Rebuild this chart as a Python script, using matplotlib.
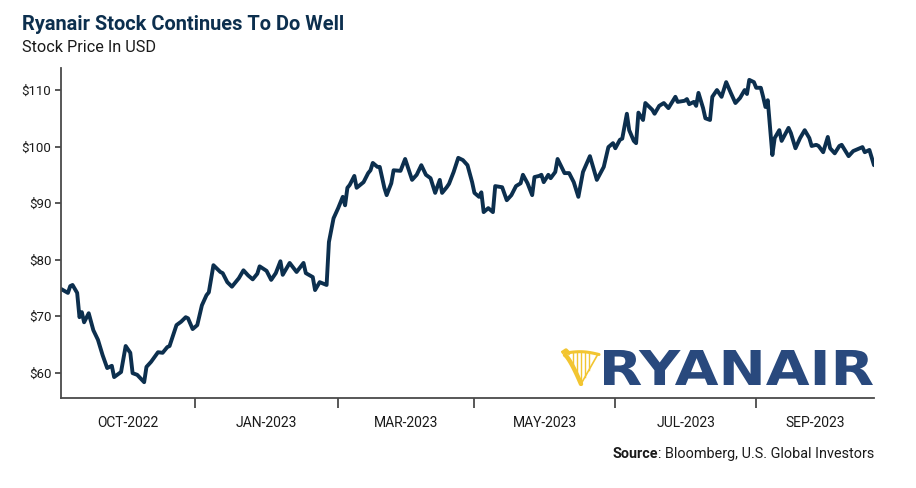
import numpy as np
import pandas as pd
import matplotlib
matplotlib.use("Agg")
import matplotlib.pyplot as plt
from matplotlib.textpath import TextPath
from matplotlib.patches import PathPatch
from matplotlib.font_manager import FontProperties

# donnees (jours depuis le debut, prix en USD)
debut = "2022-10-04"
jours = [0, 3, 4, 5, 7, 8, 9, 10, 12, 14, 16, 18, 20, 22, 23, 26, 28, 30, 31, 33,
         36, 37, 39, 42, 44, 46, 47, 50, 52, 54, 55, 57, 59, 61, 63, 64, 66, 69, 70, 72,
         74, 77, 79, 81, 83, 85, 86, 89, 91, 93, 95, 96, 99, 102, 105, 106, 109, 110, 112, 115,
         116, 118, 120, 122, 123, 124, 125, 127, 128, 131, 133, 134, 135, 137, 138, 140, 141, 143, 144, 147,
         149, 152, 154, 156, 158, 160, 162, 164, 165, 167, 168, 170, 172, 174, 176, 178, 179, 181, 182, 183,
         185, 187, 188, 191, 193, 195, 197, 199, 200, 202, 204, 205, 207, 208, 209, 211, 212, 214, 215, 218,
         220, 222, 224, 226, 229, 232, 235, 237, 239, 240, 242, 243, 245, 246, 248, 249, 250, 252, 253, 256,
         257, 259, 261, 263, 266, 267, 270, 271, 272, 274, 275, 276, 278, 279, 281, 282, 284, 286, 288, 290,
         292, 294, 296, 297, 298, 300, 301, 303, 304, 305, 306, 308, 309, 311, 312, 315, 316, 318, 320, 322,
         324, 325, 327, 328, 330, 332, 333, 335, 337, 338, 341, 343, 347, 348, 350, 352]
prix = [74.8, 74.1, 75.3, 75.5, 74.1, 69.8, 70.7, 68.9, 70.5, 67.5, 65.8, 63.1, 60.8, 61.2, 59.2, 60.1, 64.7, 63.5, 59.9, 59.6,
        58.3, 61.0, 61.9, 63.6, 63.5, 64.5, 64.7, 68.4, 69.0, 69.8, 69.6, 67.7, 68.4, 71.9, 73.7, 74.2, 79.0, 77.8, 77.6, 76.0,
        75.2, 76.7, 78.1, 77.2, 76.5, 77.5, 78.8, 78.0, 76.4, 77.6, 79.7, 77.3, 79.4, 77.8, 79.4, 77.6, 76.9, 74.6, 76.0, 75.5,
        83.1, 87.3, 89.1, 91.1, 89.6, 92.7, 93.2, 94.8, 92.7, 93.7, 95.3, 95.8, 97.1, 96.4, 96.4, 92.7, 91.4, 93.5, 95.8, 95.7,
        97.8, 94.1, 95.0, 96.7, 95.0, 94.4, 91.8, 94.1, 91.8, 92.8, 93.4, 95.5, 98.0, 97.6, 96.7, 93.7, 91.8, 91.1, 91.9, 88.4,
        89.1, 88.4, 93.0, 92.8, 90.5, 91.4, 93.0, 93.5, 95.0, 93.5, 91.4, 94.6, 94.8, 95.0, 93.7, 95.0, 94.4, 95.5, 97.8, 95.3,
        95.3, 93.7, 91.1, 95.5, 98.3, 94.1, 96.4, 99.9, 100.6, 99.7, 101.2, 101.4, 105.8, 102.9, 101.0, 100.6, 106.0, 104.7, 107.7, 106.5,
        105.8, 107.2, 107.7, 106.8, 108.8, 107.9, 108.1, 108.4, 107.5, 107.9, 107.2, 109.5, 106.8, 105.0, 104.7, 108.8, 110.0, 108.8, 111.4, 109.5,
        107.7, 108.6, 110.0, 109.3, 111.8, 111.4, 110.4, 110.4, 108.8, 107.0, 108.2, 98.5, 101.5, 102.9, 101.0, 103.3, 102.4, 99.7, 101.5, 102.9,
        101.5, 100.1, 100.3, 100.1, 99.0, 101.7, 99.7, 98.8, 100.1, 100.3, 98.3, 99.2, 99.9, 99.0, 99.4, 96.7]

limites_mois = ["2022-12-01", "2023-02-01", "2023-04-01", "2023-06-01", "2023-08-01"]
etiquettes_mois = ["OCT-2022", "JAN-2023", "MAR-2023", "MAY-2023", "JUL-2023", "SEP-2023"]
graduations_y = [60, 70, 80, 90, 100, 110]

police = ["Roboto", "DejaVu Sans"]
bleu_fonce = "#0c2f4e"
gris_axe = "#4a4a4a"

dates = pd.Timestamp(debut) + pd.to_timedelta(jours, unit="D")
limites = pd.to_datetime(limites_mois)
bords = [dates[0]] + list(limites) + [dates[-1]]
milieux = [bords[i] + (bords[i + 1] - bords[i]) / 2 for i in range(len(bords) - 1)]

fig = plt.figure(figsize=(9.16, 4.88), dpi=100)
ax = fig.add_axes([61 / 916, 90 / 488, 813 / 916, 330 / 488])

ax.plot(dates, prix, color=bleu_fonce, lw=2.8, solid_joinstyle="round", solid_capstyle="round")

ax.set_xlim(dates[0], dates[-1])
ax.set_ylim(55.5, 113.9)
ax.set_yticks(graduations_y)
ax.set_yticklabels(["${}".format(v) for v in graduations_y], family=police, fontsize=9.5, color="#1a1a1a")

ax.set_xticks(limites)
ax.set_xticklabels([])
ax.set_xticks(milieux, minor=True)
ax.set_xticklabels(etiquettes_mois, minor=True, family=police, fontsize=10, color="#1a1a1a")
ax.tick_params(axis="x", which="major", length=7, width=1.3, color=gris_axe)
ax.tick_params(axis="x", which="minor", length=0, pad=13)
ax.tick_params(axis="y", length=4, width=1.3, color=gris_axe, pad=3)

for s in ["top", "right"]:
    ax.spines[s].set_visible(False)
for s in ["left", "bottom"]:
    ax.spines[s].set_color(gris_axe)
    ax.spines[s].set_linewidth(1.3)

fig.text(22 / 916, 1 - 24 / 488, "Ryanair Stock Continues To Do Well", family=police,
         fontsize=14.4, fontweight="bold", color=bleu_fonce, va="center", ha="left")
fig.text(22 / 916, 1 - 48 / 488, "Stock Price In USD", family=police,
         fontsize=11.7, color="#1a1a1a", va="center", ha="left")

# source en bas a droite
t = fig.text(874 / 916, 1 - 454 / 488, ": Bloomberg, U.S. Global Investors", family=police,
             fontsize=10.4, color="#1a1a1a", va="center", ha="right")
fig.canvas.draw()
bb = t.get_window_extent()
fig.text(bb.x0 / 916, 1 - 454 / 488, "Source", family=police, fontsize=10.4,
         fontweight="bold", color="#1a1a1a", va="center", ha="right")

# logo ryanair : texte etire dans sa boite
ax_logo = fig.add_axes([604 / 916, (488 - 385) / 488, 269 / 916, 35 / 488])
chemin = TextPath((0, 0), "RYANAIR", prop=FontProperties(family="DejaVu Sans", weight="bold"))
ext = chemin.get_extents()
ax_logo.add_patch(PathPatch(chemin, fc="#29497d", ec="none"))
ax_logo.set_xlim(ext.x0, ext.x1)
ax_logo.set_ylim(ext.y0, ext.y1)
ax_logo.axis("off")

# harpe jaune
ax_harpe = fig.add_axes([561 / 916, (488 - 386) / 488, 40 / 916, 38 / 488])
jaune = "#f2c531"
th = np.linspace(0, 1, 30)
ax_harpe.plot(4 + 16 * th, 31 - 29 * th ** 1.3, color=jaune, lw=3.2, solid_capstyle="round")
ax_harpe.plot(5 + 33 * th, 33 + 2 * np.sin(np.pi * th) - 1.5 * th, color=jaune, lw=2.2, solid_capstyle="round")
ax_harpe.plot([20, 37], [2, 32], color=jaune, lw=1.2)
for xs in [12, 16, 20, 24, 28]:
    ax_harpe.plot([xs, xs], [34, 2 + (xs - 20) * 30 / 17 if xs > 20 else 31 - 29 * ((xs - 4) / 16) ** 1.3 + 2],
                  color=jaune, lw=1.0)
ax_harpe.plot([2, 5, 8], [34, 36, 33], color=jaune, lw=2.5)
ax_harpe.set_xlim(0, 40)
ax_harpe.set_ylim(0, 38)
ax_harpe.axis("off")

fig.savefig("out.png", dpi=100)
